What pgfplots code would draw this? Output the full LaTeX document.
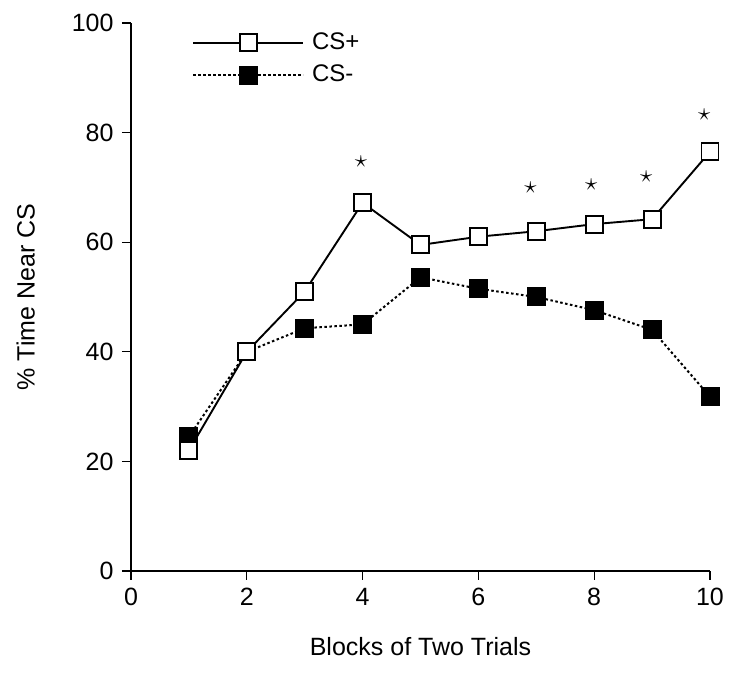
\documentclass[border=0pt]{standalone}
\usepackage{fontspec}
\setmainfont{Liberation Sans}
\usepackage{pgfplots}
\pgfplotsset{compat=1.18}

\begin{document}
\fontsize{25}{29}\selectfont
\begin{tikzpicture}
\begin{axis}[
  width=579pt, height=548pt, scale only axis,
  xmin=0, xmax=10, ymin=0, ymax=100,
  axis lines=left,
  axis line style={-, line width=1.3pt},
  xtick={0,2,...,10}, ytick={0,20,...,100},
  tick align=outside, major tick length=9pt,
  tick style={line width=1.3pt, black},
  /pgf/number format/assume math mode=true,
  xlabel={Blocks of Two Trials},
  ylabel={\% Time Near CS},
  xlabel style={yshift=-14pt},
  ylabel style={yshift=20pt},
  clip=false,
  reverse legend,
  legend style={draw=none, fill=none, at={(0.10,0.99)}, anchor=north west,
    row sep=8pt, column sep=6pt, font=\fontsize{24}{27}\selectfont},
  legend cell align=left,
  legend image code/.code={\draw[mark repeat=2, mark phase=2, #1]
    plot coordinates {(0pt,0pt) (55pt,0pt) (110pt,0pt)};},
]
% CS- (filled squares, dotted line)
\addplot[black, line width=2pt, dash pattern=on 2.5pt off 2.5pt,
  mark=square*, mark size=8.5pt, mark options={solid}]
  coordinates {(1,24.5) (2,40) (3,44.3) (4,45) (5,53.6) (6,51.5) (7,50) (8,47.6) (9,44) (10,31.8)};
\addlegendentry{CS-}
% CS+ (open squares, solid line)
\addplot[black, line width=1.9pt,
  mark=square*, mark size=8.5pt, mark options={fill=white, line width=1.9pt}]
  coordinates {(1,22) (2,40) (3,51) (4,67.2) (5,59.5) (6,61) (7,62) (8,63.3) (9,64.2) (10,76.5)};
\addlegendentry{CS+}
% significance stars
\addplot[only marks, forget plot, mark=text, text mark={\fontsize{32}{32}\selectfont$\star$}]
  coordinates {(3.97,74.6) (6.9,70) (7.95,70.4) (8.9,72) (9.9,83.2)};
\end{axis}
\pgfresetboundingbox
\path[use as bounding box] ([shift={(-131pt,-108pt)}]current axis.south west)
  rectangle ([shift={(19pt,23pt)}]current axis.north east);
\end{tikzpicture}
\end{document}
